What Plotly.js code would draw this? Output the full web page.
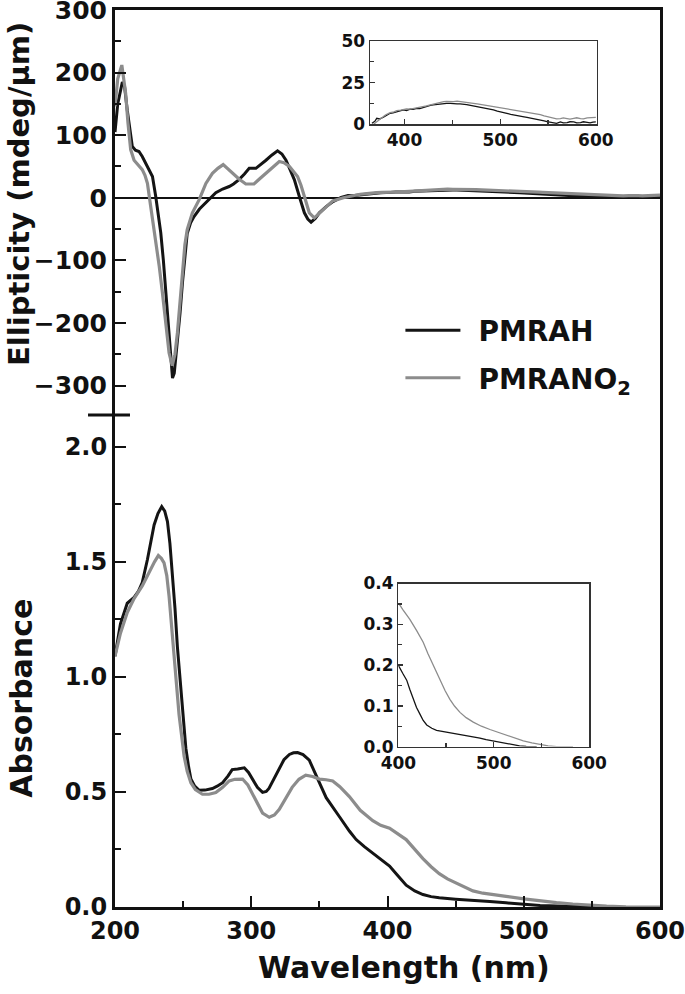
<!DOCTYPE html>
<html><head><meta charset="utf-8">
<script src="https://cdn.plot.ly/plotly-3.0.1.min.js"></script>
<style>body{margin:0;background:#fff}#chart{width:685px;height:994px}</style>
</head><body><div id="chart"></div>
<script>
// ---------- CD spectra (main, 200-360 nm) ----------
var cdWlA = [200,202,205.4,207,209,211,212.7,215,217.6,220,222.5,225,227.5,229.9,231.8,233.6,235.5,237.3,239.2,241,242.2,243.5,245.8,247.7,249.5,251.3,253,255.5,258,262,266.7,270,274,279,283.8,287,291,295,298.5,303.4,307,310.8,315,319.3,322.5,325.5,328.5,331.6,335.3,339,341.5,343.9,347,350,355,360];
var cdA   = [105,150,185,178,140,105,82,76,74,66,55,46,34,2,-25,-56,-100,-147,-205,-258,-288,-280,-232,-185,-136,-90,-57,-40,-30,-18,-8,0,8,14,18,22,29,38,47,47,53,60,68,75,70,60,45,29,2,-24,-34,-39,-33,-24,-14,-6];
var cdWlB = [200,202,205,207.8,209.5,211.5,214,217,220,222,223.8,226.2,228,230,232.5,234.8,237.3,239.7,242,244,245.8,247.7,249.5,251.3,253,256.8,261.8,266.7,271.5,275.5,279.4,283,286,291,296,302,306,310.8,316,320.6,324,328,334,336.5,339,342.6,346.3,350,353.7,359.8];
var cdB   = [146,190,212,167,120,77,60,53,45,36,23,-14,-40,-67,-110,-152,-200,-248,-268,-250,-216,-165,-110,-75,-51,-24,-3,23,39,47,53,46,39,30,22,22,30,39,50,58,56,50,34,20,2,-24,-32,-25,-18,-5];

// ---------- CD visible region (inset, also tail of main) ----------
var visWlA = [366,369,371,374,378,381,385,388,392,395,399,402,406,409,413,416,420,423,427,430,434,437,441,444,448,451,455,458,462,465,469,472,476,479,483,486,490,493,497,500,504,507,511,514,518,521,525,528,532,535,539,542,546,549,553,556,559,563,566,570,573,577,580,584,587,591,594,597,600];
var visA   = [0.6,1.8,3.6,3.2,4.2,5.4,6.6,6.9,7.6,7.9,8.6,8.3,9.1,9.0,9.6,9.4,10.3,10.6,11.4,11.6,12.0,12.2,12.4,12.6,12.5,12.6,12.3,12.2,12.1,11.8,11.3,11.0,10.7,10.2,9.6,9.4,8.9,8.6,7.9,7.6,7.1,6.6,6.0,5.6,5.4,5.0,4.5,4.2,3.8,3.4,3.0,2.6,2.1,1.6,1.2,1.0,0.6,1.4,0.9,1.0,1.5,1.4,0.8,1.0,1.5,1.2,0.9,1.3,1.4];
var visWlB = [367.7,370,373,376,380,383,385,389,392,396,399,402,406,409.5,413,416.5,420,423,427,430,434,437,441,444,448,451,455,458,462,465,469,472,476,479,483,486,490,493,497,500,504,507,511,514,518,521,525,528,532,535,539,542,546,549,553,556,559,563,566,570,573,577,580,584,587,591,594,597,600];
var visB   = [0,1.2,2.6,3.8,5.6,6.3,7.0,7.4,8.2,8.5,9.0,9.3,9.1,9.4,9.9,10.2,10.5,11.0,11.7,12.2,12.9,13.4,13.6,13.8,13.5,13.6,13.9,13.6,13.2,13.0,12.8,12.6,12.3,12.0,11.6,11.4,10.9,10.6,10.5,10.2,9.8,9.4,8.9,8.6,8.2,7.8,7.5,7.2,6.8,6.6,6.2,5.8,5.1,4.6,4.1,3.8,3.3,3.4,3.8,3.4,3.1,3.6,3.9,3.4,3.2,3.8,4.0,3.9,4.2];

// ---------- Absorbance (main) ----------
var absWlA = [200,204,209,214,217,220,223.8,226,228.7,231.5,234.3,236.5,238.5,240.3,242,244,245.8,247.5,249,250.5,252,254,255.7,258.5,261.8,266,271.5,275,279,283,286,290,294.9,298,301,304.5,308.3,311,313,317,320.6,324,328,331,334,338,342.6,346,350,355,360,365,372,377,383,389,395,401.5,407,413.7,420,426,432,438,450,462.6,475,487,500,512,525,540,556];
var absA   = [1.09,1.23,1.32,1.345,1.37,1.41,1.51,1.58,1.66,1.71,1.74,1.72,1.675,1.58,1.46,1.30,1.13,1.00,0.885,0.78,0.69,0.61,0.556,0.525,0.507,0.508,0.515,0.525,0.54,0.57,0.597,0.60,0.605,0.585,0.556,0.52,0.498,0.502,0.515,0.56,0.605,0.64,0.663,0.670,0.671,0.662,0.638,0.59,0.54,0.475,0.43,0.39,0.33,0.293,0.262,0.235,0.207,0.178,0.14,0.095,0.07,0.054,0.045,0.04,0.034,0.03,0.024,0.018,0.012,0.007,0.004,0.002,0];
var absWlB = [200,204,209,214,220,226.2,229,231.8,234,236,238,239.7,241.5,243.4,245.2,247,249,250.7,253,255.7,259,264.2,269,274,279,283.8,288,293.6,297.5,301,305,308.3,313.2,317,320.6,325,330,335,340,345,350,355,359.8,365,372,380,389.2,395,401.5,413.7,420,426,432,438,444,450.5,456,462.7,470,478,487,500,511.8,524,536,548,560.8,575,590,600];
var absB   = [1.09,1.19,1.28,1.34,1.395,1.47,1.50,1.527,1.515,1.495,1.44,1.35,1.22,1.08,0.95,0.836,0.74,0.656,0.59,0.54,0.51,0.49,0.49,0.497,0.52,0.548,0.555,0.556,0.53,0.49,0.44,0.408,0.39,0.40,0.425,0.47,0.52,0.555,0.573,0.567,0.556,0.553,0.548,0.523,0.48,0.42,0.375,0.355,0.342,0.293,0.25,0.21,0.175,0.145,0.122,0.104,0.086,0.07,0.06,0.052,0.046,0.035,0.026,0.019,0.013,0.008,0.004,0.001,0,0];

// ---------- Absorbance inset (400-600 nm) ----------
var insWlA = [400,401,404.5,408.7,412,415.7,419,422.7,426,429.7,435,440,447,454,462,471.6,478,485.5,492,499.5,506,513.4,520,527,534,545];
var insA   = [0.198,0.195,0.18,0.163,0.14,0.116,0.096,0.079,0.064,0.053,0.045,0.04,0.037,0.034,0.031,0.028,0.025,0.021,0.017,0.014,0.01,0.007,0.004,0.002,0.0005,0];
var insWlB = [400,401,405,412,419,426,431,436.6,443.6,449,454,459,464.6,471,478.5,487,496,505,513.4,522,531,540,548,557,566,583];
var insB   = [0.35,0.349,0.335,0.312,0.285,0.256,0.228,0.2,0.163,0.137,0.116,0.099,0.084,0.071,0.06,0.05,0.042,0.035,0.028,0.021,0.014,0.009,0.005,0.002,0,0];

var xTicks = [200,300,400,500,600];
var cdTicks = [-300,-200,-100,0,100,200,300];
var absTicks = [0,0.5,1.0,1.5,2.0];

var BLACK = '#141414', GRAY = '#8c8c8c', AX = '#111';
var FONT = 'DejaVu Sans';

var traces = [
  {x: cdWlA.concat(visWlA), y: cdA.concat(visA), xaxis:'x2', yaxis:'y2', type:'scatter', mode:'lines',
   name:'PMRAH', legendgroup:'a', line:{color:BLACK, width:3}},
  {x: cdWlB.concat(visWlB), y: cdB.concat(visB), xaxis:'x2', yaxis:'y2', type:'scatter', mode:'lines',
   name:'PMRANO<sub>2</sub>', legendgroup:'b', line:{color:GRAY, width:3.2}},
  {x: absWlA, y: absA, xaxis:'x', yaxis:'y', type:'scatter', mode:'lines', showlegend:false, line:{color:BLACK, width:3}},
  {x: absWlB, y: absB, xaxis:'x', yaxis:'y', type:'scatter', mode:'lines', showlegend:false, line:{color:GRAY, width:3.2}},
  {x: visWlA, y: visA, xaxis:'x3', yaxis:'y3', type:'scatter', mode:'lines', showlegend:false, line:{color:BLACK, width:1.3}},
  {x: visWlB, y: visB, xaxis:'x3', yaxis:'y3', type:'scatter', mode:'lines', showlegend:false, line:{color:GRAY, width:1.3}},
  {x: insWlA, y: insA, xaxis:'x4', yaxis:'y4', type:'scatter', mode:'lines', showlegend:false, line:{color:BLACK, width:1.3}},
  {x: insWlB, y: insB, xaxis:'x4', yaxis:'y4', type:'scatter', mode:'lines', showlegend:false, line:{color:GRAY, width:1.3}}
];

var SPLIT = 0.5485;
function mainAx(extra){
  var o = {showline:true, linewidth:3, linecolor:AX, ticks:'inside', ticklen:11, tickwidth:2, tickcolor:AX,
           showgrid:false, zeroline:false, ticklabeloverflow:'allow',
           tickfont:{family:FONT, size:24, color:'#111', weight:'bold'}};
  for (var k in extra) o[k] = extra[k];
  return o;
}
function insAx(extra){
  var o = {showline:true, mirror:true, linewidth:1.5, linecolor:'#333', ticks:'inside', ticklen:5, tickwidth:1.3, tickcolor:'#333',
           showgrid:false, zeroline:false, ticklabeloverflow:'allow',
           tickfont:{family:FONT, size:17, color:'#111', weight:'bold'}};
  for (var k in extra) o[k] = extra[k];
  return o;
}

var layout = {
  width:685, height:994,
  margin:{l:115, r:25, t:10, b:87},
  paper_bgcolor:'#fff', plot_bgcolor:'rgba(0,0,0,0)',
  font:{family:FONT, color:'#111'},
  showlegend:true,
  legend:{x:0.5237, y:0.6704, xanchor:'left', yanchor:'top', bgcolor:'rgba(0,0,0,0)',
          font:{family:FONT, size:28, color:'#111', weight:'bold'},
          itemwidth:68, traceorder:'grouped', tracegroupgap:8},
  xaxis: mainAx({domain:[0,1], range:[200,600], anchor:'y', tickvals:xTicks,
          minor:{dtick:50, tick0:200, ticks:'inside', ticklen:6, tickwidth:2, tickcolor:AX, showgrid:false}}),
  yaxis: mainAx({domain:[0,SPLIT], range:[0,2.138], anchor:'x', mirror:true, tickvals:absTicks, tickformat:'.1f',
          minor:{dtick:0.25, tick0:0, ticks:'inside', ticklen:6, tickwidth:2, tickcolor:AX, showgrid:false}}),
  xaxis2: {domain:[0,1], range:[200,600], anchor:'y2', side:'top', showline:true, linewidth:3, linecolor:AX,
           ticks:'', showticklabels:false, showgrid:false, zeroline:false},
  yaxis2: mainAx({domain:[SPLIT,1], range:[-347,300], anchor:'x2', mirror:true, tickvals:cdTicks,
          tickfont:{family:FONT, size:25, color:'#111', weight:'bold'},
          zeroline:true, zerolinecolor:AX, zerolinewidth:2.5,
          minor:{dtick:50, tick0:0, ticks:'inside', ticklen:6, tickwidth:2, tickcolor:AX, showgrid:false}}),
  xaxis3: insAx({domain:[0.468,0.884], range:[364,601], anchor:'y3', tickvals:[400,500,600],
          minor:{tickvals:[450,550], ticks:'inside', ticklen:4, tickwidth:1.3, tickcolor:'#333', showgrid:false}}),
  yaxis3: insAx({domain:[0.8726,0.9654], range:[0,50], anchor:'x3', tickvals:[0,25,50],
          minor:{tickvals:[12.5,37.5], ticks:'inside', ticklen:4, tickwidth:1.3, tickcolor:'#333', showgrid:false}}),
  xaxis4: insAx({domain:[0.520,0.870], range:[400,600], anchor:'y4', tickvals:[400,500,600],
          minor:{tickvals:[450,550], ticks:'inside', ticklen:4, tickwidth:1.3, tickcolor:'#333', showgrid:false}}),
  yaxis4: insAx({domain:[0.1788,0.3606], range:[0,0.4], anchor:'x4', tickvals:[0,0.1,0.2,0.3,0.4], tickformat:'.1f',
          minor:{dtick:0.05, tick0:0, ticks:'inside', ticklen:4, tickwidth:1.3, tickcolor:'#333', showgrid:false}}),
  shapes:[
    {type:'line', xref:'paper', yref:'paper', x0:-0.0495, x1:0.0275, y0:SPLIT, y1:SPLIT, line:{color:AX, width:3}}
  ],
  annotations:[
    {text:'Ellipticity (mdeg/\u03BCm)', xref:'paper', yref:'paper', x:-0.176, y:0.795, textangle:-90,
     showarrow:false, xanchor:'center', yanchor:'middle', font:{family:FONT, size:29, color:'#111', weight:'bold'}},
    {text:'Absorbance', xref:'paper', yref:'paper', x:-0.171, y:0.233, textangle:-90,
     showarrow:false, xanchor:'center', yanchor:'middle', font:{family:FONT, size:30, color:'#111', weight:'bold'}},
    {text:'Wavelength (nm)', xref:'paper', yref:'paper', x:0.530, y:-0.068,
     showarrow:false, xanchor:'center', yanchor:'middle', font:{family:FONT, size:30, color:'#111', weight:'bold'}}
  ]
};

Plotly.newPlot('chart', traces, layout, {displayModeBar:false, staticPlot:true}).then(function(gd){
  // lengthen the legend line samples to match the reference key
  gd.querySelectorAll('.legend .legendlines path').forEach(function(p){ p.setAttribute('d','M5,0h55'); });
});
</script>
</body></html>
